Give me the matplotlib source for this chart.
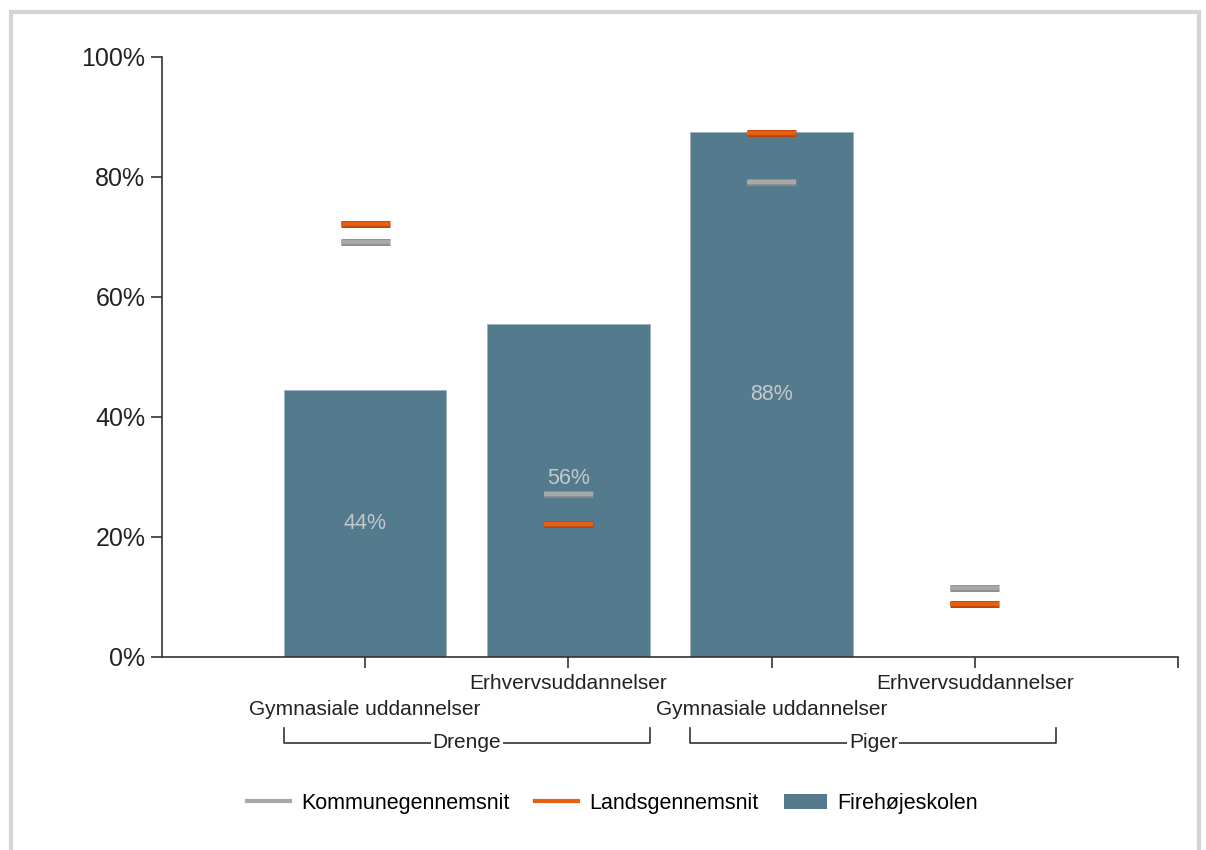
#Firehøjeskolen - fordeling paa uddannelser
import matplotlib.pyplot as plt
from matplotlib.lines import Line2D
from matplotlib.patches import Patch, Rectangle
import matplotlib.patheffects as pe

#Data
kategorier = ["Gymnasiale uddannelser", "Erhvervsuddannelser",
              "Gymnasiale uddannelser", "Erhvervsuddannelser"]
grupper = ["Drenge", "Piger"]
skole = [44.5, 55.5, 87.5, 0]
skole_labels = ["44%", "56%", "88%", ""]
kommune = [69.2, 27.2, 79.2, 11.5]
lands = [72.2, 22.2, 87.3, 8.8]

#Farver
BAR = "#537a8d"
GRAA = "#a8a8a8"
GRAA_KANT = "#8a8a8a"
ORANGE = "#e8600f"
ORANGE_KANT = "#b8420a"
TXT = "#222222"

plt.rcParams['font.family'] = ['Liberation Sans', 'DejaVu Sans']

fig = plt.figure(figsize=(12.06, 8.5), dpi=100)
fig.patches.append(Rectangle((0.009, -0.01), 0.985, 0.996, transform=fig.transFigure,
                             fill=False, edgecolor="#d4d4d4", linewidth=3))
ax = fig.add_axes([0.1343, 0.2271, 0.8425, 0.7059])

x = [1, 2, 3, 4]
ax.bar(x, skole, width=0.8, color=BAR, edgecolor="#9fb3bd", linewidth=0.6, zorder=2)

for xi, v, lab in zip(x, skole, skole_labels):
    if lab:
        y = v / 2
        if xi == 2:
            y = v / 2 + 2   # flyttet lidt op i originalen
        ax.text(xi, y, lab, ha="center", va="center", color="#c4c8cc", fontsize=15.5, zorder=4)

def markering(vals, farve, kant):
    ax.hlines(vals, [xi - 0.12 for xi in x], [xi + 0.12 for xi in x], colors=farve,
              linewidth=3.2, zorder=3,
              path_effects=[pe.Stroke(linewidth=5, foreground=kant), pe.Normal()])

markering(kommune, GRAA, GRAA_KANT)
markering(lands, ORANGE, ORANGE_KANT)

ax.set_xlim(0, 5)
ax.set_ylim(0, 100)
ax.set_yticks([0, 20, 40, 60, 80, 100])
ax.set_yticklabels(["0%", "20%", "40%", "60%", "80%", "100%"])
ax.tick_params(axis="y", labelsize=18, length=8, width=1.2, colors="#333333", labelcolor=TXT, pad=4)
ax.set_xticks([1, 2, 3, 4, 5])
ax.set_xticklabels([])
ax.tick_params(axis="x", length=8, width=1.2, colors="#333333")
for s in ["top", "right"]:
    ax.spines[s].set_visible(False)
for s in ["left", "bottom"]:
    ax.spines[s].set_color("#333333")
    ax.spines[s].set_linewidth(1.2)

#Kategori-labels forskudt
trans = ax.get_xaxis_transform()
for i, (xi, lab) in enumerate(zip(x, kategorier)):
    yy = -0.088 if i % 2 == 0 else -0.045
    ax.text(xi, yy, lab, ha="center", va="center", fontsize=15, color=TXT,
            transform=trans, clip_on=False)

#Gruppe-klammer
for (x0, x1), navn in zip([(0.6, 2.4), (2.6, 4.4)], grupper):
    yb = -0.143
    yt = -0.119
    ax.plot([x0, x0, x1, x1], [yt, yb, yb, yt], color="#333333", lw=1.2,
            transform=trans, clip_on=False)
    ax.text((x0 + x1) / 2, yb, navn, ha="center", va="center", fontsize=15, color=TXT,
            transform=trans, clip_on=False,
            bbox=dict(facecolor="white", edgecolor="none", pad=1))

#Legend
handles = [Line2D([], [], color=GRAA, lw=3), Line2D([], [], color=ORANGE, lw=3),
           Patch(facecolor=BAR)]
fig.legend(handles, ["Kommunegennemsnit", "Landsgennemsnit", "Firehøjeskolen"],
           loc="center", bbox_to_anchor=(0.508, 0.055), ncol=3, frameon=False,
           fontsize=15.5, handlelength=2.0, columnspacing=1.2, handletextpad=0.5)

plt.savefig("out.png", dpi=100)
